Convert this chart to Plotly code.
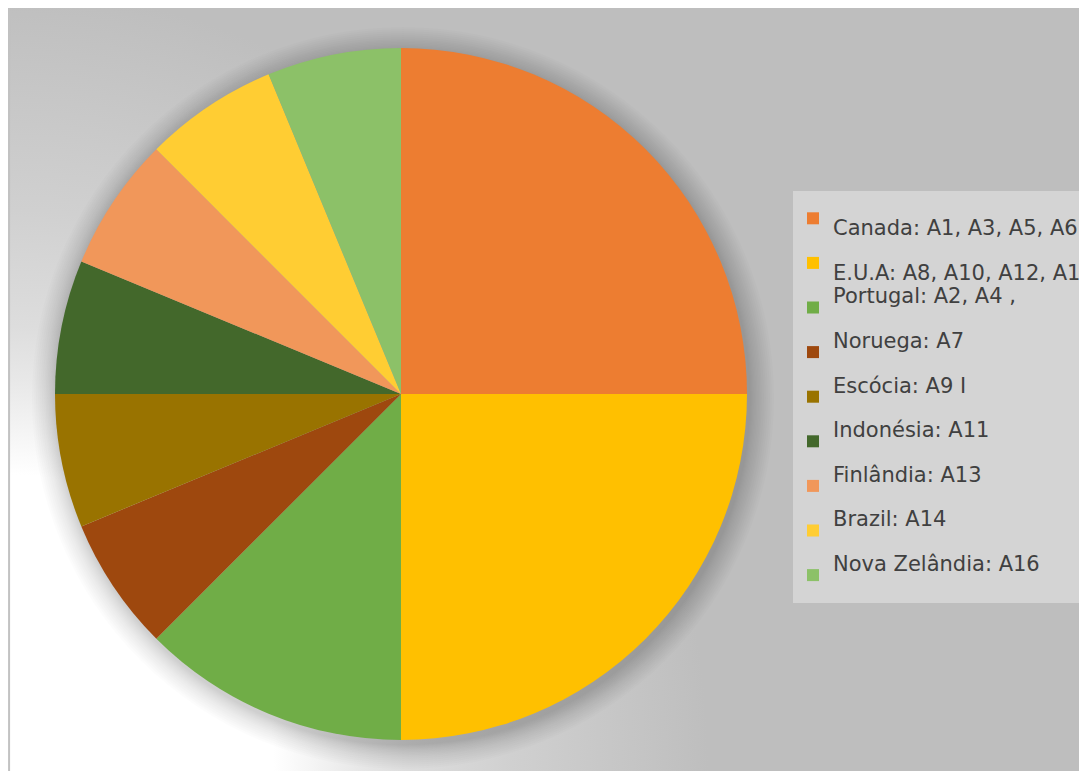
import plotly.graph_objects as go

# ---- data ----
countries = ["Canada", "E.U.A", "Portugal", "Noruega", "Escócia",
             "Indonésia", "Finlândia", "Brazil", "Nova Zelândia"]
codes = ["A1, A3, A5, A6", "A8, A10, A12, A15", "A2, A4 ,", "A7", "A9 I",
         "A11", "A13", "A14", "A16"]
counts = [4, 4, 2, 1, 1, 1, 1, 1, 1]
colors = ["#ED7D31", "#FFC000", "#70AD47", "#9E480E", "#997300",
          "#43682B", "#F1975A", "#FFCD33", "#8CC168"]
text_on_second_line = [True, True, False, False, False, False, False, False, False]

# the page adds an 8px body margin; the figure fills the rest of the window
W, H = 1079, 763
TEXT_PX = 21

labels = []
for c, k, second in zip(countries, codes, text_on_second_line):
    t = f"<span style='font-size:{TEXT_PX}px'>{c}: {k}</span>"
    labels.append(("\u00a0<br>" + t) if second else (t + "<br>\u00a0"))

# pie geometry (figure pixels, from top-left)
cx, cy, r = 393, 386, 346

def dom(cx_, cy_, rr):
    return dict(x=[max(0, (cx_ - rr) / W), min(1, (cx_ + rr) / W)],
                y=[max(0, (H - cy_ - rr) / H), min(1, (H - cy_ + rr) / H)])

fig = go.Figure()

# background glow: white at bottom-left fading into grey
RX, RY = 700, 780
fig.add_trace(go.Scatter(
    x=[-RX, RX, RX, -RX, -RX],
    y=[-RY, -RY, RY, RY, -RY],
    mode="none", fill="toself",
    fillgradient=dict(type="radial",
                      colorscale=[[0, "#ffffff"], [0.38, "#ffffff"],
                                  [0.5, "#e8e8e8"], [0.57, "#dddddd"],
                                  [0.72, "#d0d0d0"], [0.97, "#c0c0c0"],
                                  [1, "#bebebe"]]),
    hoverinfo="skip", showlegend=False))

# soft shadow behind the pie (stacked translucent discs)
shadow_extra = [25, 23, 21, 19, 17, 15, 13, 11.5, 10, 8.5, 7, 5.8, 4.6, 3.5, 2.4, 1.4]
for i, extra in enumerate(shadow_extra):
    fig.add_trace(go.Pie(
        values=[1], labels=[f"shadow{i}"], sort=False,
        marker=dict(colors=["rgba(0,0,0,0.011)"], line=dict(width=0)),
        textinfo="none", hoverinfo="skip", showlegend=False,
        domain=dom(cx + 2, cy + 4, r + extra)))

fig.add_trace(go.Pie(
    labels=labels, values=counts, sort=False, direction="clockwise",
    rotation=0, marker=dict(colors=colors, line=dict(width=0)),
    textinfo="none", domain=dom(cx, cy, r)))

fig.update_layout(
    width=W, height=H,
    margin=dict(l=0, r=0, t=0, b=0, autoexpand=False),
    paper_bgcolor="#bebebe",
    plot_bgcolor="#bebebe",
    xaxis=dict(domain=[0, 1], range=[0, W], visible=False, fixedrange=True),
    yaxis=dict(domain=[0, 1], range=[0, H], visible=False, fixedrange=True),
    shapes=[dict(type="line", xref="paper", yref="paper", x0=0.001, x1=0.001,
                 y0=0, y1=1, line=dict(color="#c2c2c2", width=2), layer="above")],
    legend=dict(x=785 / W, y=1 - 183 / H, xanchor="left", yanchor="top",
                bgcolor="#d4d4d4", borderwidth=0,
                font=dict(family="DejaVu Sans", size=16, color="#404040"),
                traceorder="normal"),
)

fig.write_html("out.html")
